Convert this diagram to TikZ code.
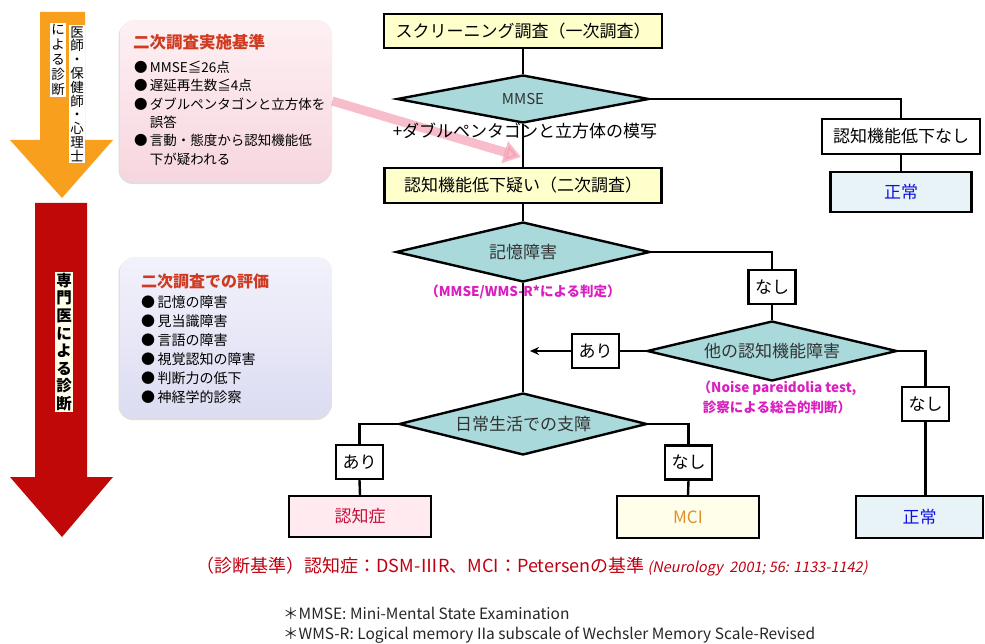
\documentclass[tikz,border=0pt]{standalone}
\usepackage{fontspec}
\setmainfont{Noto Sans CJK JP}
\newfontfamily\slfont{Noto Sans CJK JP}[FakeSlant=0.2]
\usetikzlibrary{shapes.geometric,arrows.meta,shadows}
\newcommand{\fsz}[1]{\fontsize{#1bp}{#1bp}\selectfont}
\definecolor{diafill}{HTML}{A9D9DB}
\definecolor{scrfill}{HTML}{FFFFCC}
\definecolor{demfill}{HTML}{FFEBEF}
\definecolor{mcifill}{HTML}{FFFEEA}
\definecolor{normfill}{HTML}{E8F3F7}
\definecolor{demtext}{HTML}{C8103C}
\definecolor{mcitext}{HTML}{E0902A}
\definecolor{normtext}{HTML}{1010E0}
\definecolor{magtext}{HTML}{DA1FC0}
\definecolor{titlered}{HTML}{D03A20}
\definecolor{critred}{HTML}{C00010}
\definecolor{orangeA}{HTML}{F8A01E}
\definecolor{redA}{HTML}{C00808}
\definecolor{pinkarrow}{HTML}{F49AB0}
\definecolor{pinktop}{HTML}{FDF0F3}
\definecolor{pinkbot}{HTML}{F7D6DE}
\definecolor{bluetop}{HTML}{F2F2FC}
\definecolor{bluebot}{HTML}{DCDCF2}
\begin{document}
\begin{tikzpicture}[x=1bp,y=-1bp,
  flowbox/.style={draw, line width=2.4bp, inner sep=0pt, minimum height=35bp, font=\fsz{17}},
  tagbox/.style={draw, fill=white, line width=2.2bp, inner sep=0pt, minimum width=47bp, minimum height=34bp, font=\fsz{17}},
  dia/.style={diamond, draw, fill=diafill, line width=2.4bp, inner sep=0pt, aspect=4, font=\fsz{17}, text=black!80},
  conn/.style={line width=2.4bp},
  maglabel/.style={font=\bfseries\fsz{13.5}, text=magtext, align=center, inner sep=0pt},
  infobox/.style={rounded corners=14bp, minimum width=212bp, inner sep=0pt,
    drop shadow={opacity=0.25, shadow xshift=-1.5bp, shadow yshift=-2bp}},
  infotext/.style={anchor=north west, align=left, inner sep=0pt},
  vtext/.style={align=center, inner sep=1.2bp, fill=white}
]
\useasboundingbox (0,0) rectangle (985,644);
\fill[white] (0,0) rectangle (985,644);

% left arrows
\fill[orangeA] (40,12) -- (85,12) -- (85,140) -- (113,140) -- (62,198) -- (10,140) -- (40,140) -- cycle;
\fill[redA] (35,203) -- (87,203) -- (87,477) -- (113,477) -- (62,537) -- (10,477) -- (35,477) -- cycle;
\node[vtext, font=\fontsize{13.5bp}{13.8bp}\selectfont] (ov1) at (77,94) {医\\師\\・\\保\\健\\師\\・\\心\\理\\士};
\node[vtext, font=\fontsize{13.5bp}{14.8bp}\selectfont] (ov2) at (58,60) {に\\よ\\る\\診\\断};
\node[vtext, fill=yellow!8, font=\bfseries\fontsize{15.5bp}{17.6bp}\selectfont] (rv) at (64,342) {専\\門\\医\\に\\よ\\る\\診\\断};

% info boxes
\node[infobox, minimum height=162bp, top color=pinktop, bottom color=pinkbot] (pink) at (226,101) {};
\node[anchor=base west, inner sep=0pt, text=titlered, font=\bfseries\fsz{16.5}] (pt) at (133,49) {二次調査実施基準};
\node[infotext, font=\fontsize{13.5bp}{18.3bp}\selectfont] (pl) at (134,61)
  {●\,MMSE≦26点\\●\,遅延再生数≦4点\\●\,ダブルペンタゴンと立方体を\\\phantom{●\,}誤答\\●\,言動・態度から認知機能低\\\phantom{●\,}下が疑われる};

\node[infobox, minimum height=161bp, top color=bluetop, bottom color=bluebot] (blue) at (226,337.5) {};
\node[anchor=base west, inner sep=0pt, text=titlered, font=\bfseries\fsz{16}] (bt) at (141,288) {二次調査での評価};
\node[infotext, font=\fontsize{14bp}{19bp}\selectfont] (bl) at (141,296)
  {●\,記憶の障害\\●\,見当識障害\\●\,言語の障害\\●\,視覚認知の障害\\●\,判断力の低下\\●\,神経学的診察};

% pink arrow
\coordinate (pa) at (521,157);
\draw[line width=9bp, pinkarrow, opacity=0.65, -{Triangle[length=17bp,width=22bp]}] (pink.east) -- (pa);

% flowchart nodes
\node[flowbox, fill=scrfill, minimum width=278bp, minimum height=34bp] (scr) at (523,31) {スクリーニング調査（一次調査）};
\node[dia, minimum width=252bp, minimum height=48bp, font=\fsz{15}] (mmse) at (523,99) {MMSE};
\node[inner sep=0pt, font=\fsz{17}] (lbl1) at (525,131) {+ダブルペンタゴンと立方体の模写};
\node[flowbox, fill=white, minimum width=158bp] (low) at (901,136.5) {認知機能低下なし};
\node[flowbox, fill=normfill, minimum width=141bp, minimum height=40bp, text=normtext] (norm1) at (901,192) {正常};
\node[flowbox, fill=scrfill, minimum width=277bp] (sus) at (523,185.5) {認知機能低下疑い（二次調査）};
\node[dia, minimum width=254bp, minimum height=60bp] (mem) at (523,252) {記憶障害};
\node[maglabel] (lbl2) at (523,292) {（MMSE/WMS-R*による判定）};
\node[tagbox] (nashi1) at (772,287) {なし};
\node[dia, minimum width=250bp, minimum height=60bp] (other) at (772,351) {他の認知機能障害};
\node[maglabel, font=\bfseries\fontsize{13.5bp}{20bp}\selectfont] (lbl3) at (777,397) {（Noise pareidolia test,\\診察による総合的判断）};
\node[tagbox] (ari1) at (595.5,351) {あり};
\coordinate (ae) at (530,351);
\node[dia, minimum width=248bp, minimum height=62bp] (daily) at (523,424) {日常生活での支障};
\node[tagbox] (ari2) at (359.5,462) {あり};
\node[tagbox] (nashi2) at (688.5,462.5) {なし};
\node[tagbox] (nashi3) at (925.5,404) {なし};
\node[flowbox, fill=demfill, minimum width=142bp, minimum height=41bp, text=demtext] (dem) at (360,516.5) {認知症};
\node[flowbox, fill=mcifill, minimum width=142bp, minimum height=42bp, text=mcitext] (mci) at (688,517) {MCI};
\node[flowbox, fill=normfill, minimum width=127bp, minimum height=42bp, text=normtext] (norm2) at (919.5,517) {正常};

% connectors
\draw[conn] (scr.south) -- (mmse.north);
\draw[conn] (mmse.south) -- (sus.north);
\draw[conn] (mmse.east) -| (low.north);
\draw[conn] (low.south) -- (norm1.north);
\draw[conn] (sus.south) -- (mem.north);
\draw[conn] (mem.east) -| (nashi1.north);
\draw[conn] (nashi1.south) -- (other.north);
\draw[conn] (other.west) -- (ari1.east);
\draw[conn, -{Stealth[length=9bp,width=8bp]}] (ari1.west) -- (ae);
\draw[conn] (mem.south) -- (daily.north);
\draw[conn] (other.east) -| (nashi3.north);
\draw[conn] (nashi3.south) -- (nashi3.south |- norm2.north);
\draw[conn] (daily.west) -| (ari2.north);
\draw[conn] (ari2.south) -- (dem.north);
\draw[conn] (daily.east) -| (nashi2.north);
\draw[conn] (nashi2.south) -- (mci.north);

% bottom texts
\node[inner sep=0pt, text=critred, font=\fsz{18}] (crit) at (532,567)
  {（診断基準）認知症：DSM-ⅢR、MCI：Petersenの基準\,{\slfont\fsz{14.5}(Neurology\ \ 2001; 56: 1133-1142)}};
\node[anchor=west, inner sep=0pt, font=\fsz{15.5}, text=black!85] (fn1) at (283,613) {＊MMSE: Mini-Mental State Examination};
\node[anchor=west, inner sep=0pt, font=\fsz{15.5}, text=black!85] (fn2) at (283,635) {＊WMS-R: Logical memory IIa subscale of Wechsler Memory Scale-Revised};
\end{tikzpicture}
\end{document}
